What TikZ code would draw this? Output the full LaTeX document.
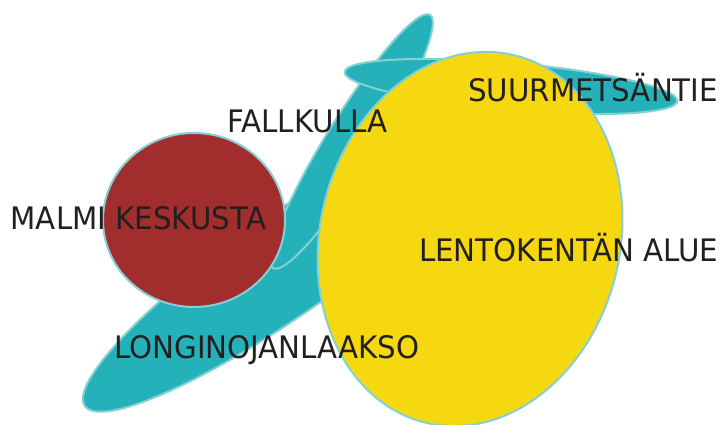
\documentclass[tikz,border=0pt]{standalone}
\usepackage{fontspec}
\newfontfamily\lblfont{DejaVu Sans}[FakeStretch=0.945]
\definecolor{teal1}{HTML}{24B1BA}
\definecolor{rim}{HTML}{84D0D4}
\definecolor{red1}{HTML}{A22D2D}
\definecolor{yel1}{HTML}{F5D80F}
\definecolor{ink}{HTML}{231F20}
\begin{document}
\begin{tikzpicture}[x=1pt,y=1pt,
  blob/.style={draw=rim,line width=2pt},
  lbl/.style={anchor=base west,inner sep=0pt,text=ink,font=\lblfont\fontsize{31}{36}\selectfont}]
\useasboundingbox (0,0) rectangle (721,425);
% lower teal ellipse (Longinojanlaakso)
\path[blob,fill=teal1] (289.7,162.4) ellipse[x radius=250,y radius=50,rotate=35];
% upper teal ellipse (Fallkulla)
\path[blob,fill=teal1] (351.5,283.5) ellipse[x radius=149,y radius=25,rotate=58.2];
% horizontal teal ellipse (Suurmetsantie)
\path[blob,fill=teal1] (511,338.5) ellipse[x radius=167,y radius=23.5,rotate=-5];
% red circle (Malmi keskusta)
\path[blob,fill=red1] (194,205) ellipse[x radius=91,y radius=87];
% yellow ellipse (Lentokentan alue)
\path[blob,fill=yel1] (470,186) ellipse[x radius=150,y radius=189,rotate=-13.5];
% labels
\node[lbl] (fall) at (227.2,292.5) {FALLKULLA};
\node[lbl] (malmi) at (10.5,195) {MALMI KESKUSTA};
\node[lbl] (lento) at (418.9,163.3) {LENTOKENTÄN ALUE};
\node[lbl] (suur) at (468.1,323.3) {SUURMETSÄNTIE};
\node[lbl] (longi) at (113.9,66.7) {LONGINOJANLAAKSO};
\end{tikzpicture}
\end{document}
